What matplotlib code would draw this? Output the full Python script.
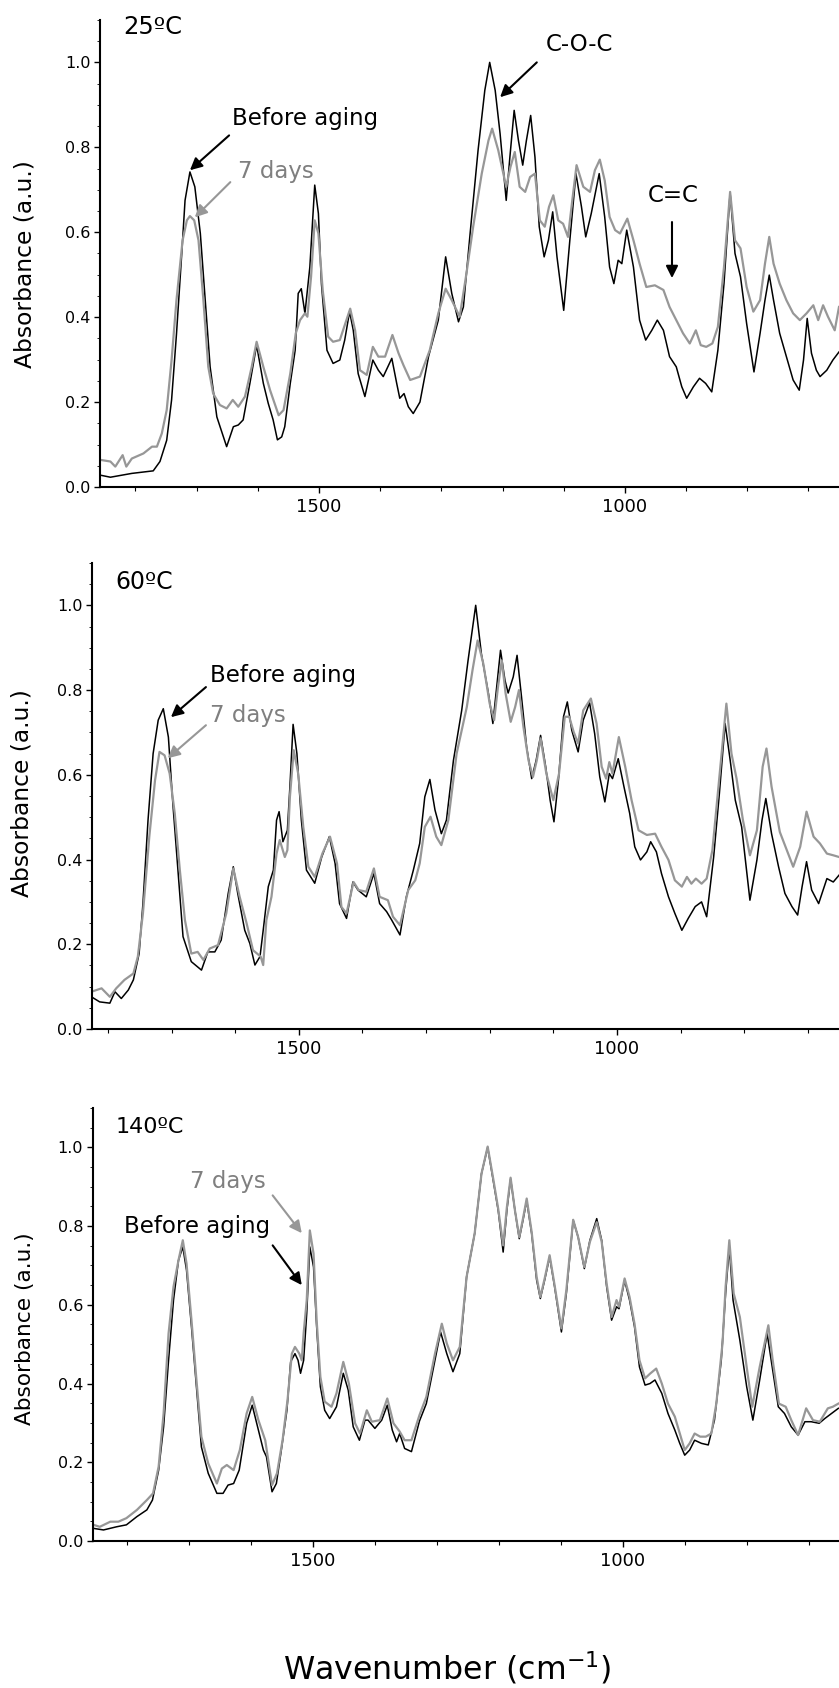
import matplotlib
matplotlib.use('Agg')
import matplotlib.pyplot as plt
from matplotlib.ticker import MultipleLocator, FixedLocator

# ---- Data (wavenumber in cm-1, absorbance in a.u.) ----

# 25 C panel
p1_before_wn = [1858, 1841, 1806, 1771, 1760, 1749, 1741, 1733, 1724, 1719, 1711, 1703, 1694, 1686, 1678,
                1667, 1651, 1640, 1632, 1624, 1613, 1602, 1591, 1583, 1575, 1568, 1561, 1556, 1547, 1539,
                1534, 1529, 1523, 1515, 1507, 1501, 1496, 1487, 1477, 1466, 1458, 1450, 1444, 1436, 1425,
                1412, 1403, 1395, 1381, 1373, 1368, 1361, 1354, 1346, 1335, 1321, 1305, 1293, 1283, 1272,
                1264, 1253, 1240, 1229, 1221, 1212, 1204, 1194, 1188, 1181, 1174, 1167, 1161, 1154, 1147,
                1140, 1132, 1125, 1118, 1111, 1100, 1090, 1080, 1071, 1064, 1055, 1042, 1033, 1025, 1018,
                1011, 1005, 997, 986, 976, 966, 956, 947, 937, 927, 916, 907, 899, 888, 878,
                868, 858, 848, 838, 828, 820, 811, 801, 789, 779, 771, 764, 757, 747, 736,
                725, 715, 708, 702, 695, 687, 681, 670, 660, 650]
p1_before_abs = [0.028, 0.023, 0.032, 0.038, 0.06, 0.11, 0.205, 0.36, 0.558, 0.675, 0.742, 0.707, 0.597, 0.44, 0.283,
                 0.165, 0.095, 0.142, 0.146, 0.158, 0.244, 0.334, 0.244, 0.197, 0.158, 0.111, 0.118, 0.142, 0.244, 0.322,
                 0.456, 0.467, 0.409, 0.518, 0.711, 0.644, 0.478, 0.322, 0.291, 0.299, 0.346, 0.413, 0.369, 0.267, 0.213,
                 0.299, 0.275, 0.26, 0.303, 0.244, 0.209, 0.22, 0.189, 0.173, 0.2, 0.307, 0.393, 0.542, 0.456, 0.389,
                 0.424, 0.597, 0.793, 0.934, 1.0, 0.934, 0.832, 0.675, 0.777, 0.887, 0.816, 0.758, 0.816, 0.875, 0.777,
                 0.613, 0.542, 0.581, 0.648, 0.542, 0.416, 0.581, 0.738, 0.66, 0.589, 0.644, 0.738, 0.636, 0.518, 0.479,
                 0.534, 0.526, 0.605, 0.518, 0.393, 0.346, 0.369, 0.393, 0.369, 0.307, 0.283, 0.236, 0.209, 0.236, 0.256,
                 0.244, 0.224, 0.322, 0.479, 0.693, 0.55, 0.495, 0.385, 0.271, 0.362, 0.44, 0.499, 0.44, 0.362, 0.307,
                 0.252, 0.228, 0.299, 0.397, 0.315, 0.275, 0.26, 0.275, 0.299, 0.318]
p1_aged_wn = [1858, 1841, 1833, 1821, 1815, 1806, 1787, 1773, 1765, 1757, 1749, 1741, 1733, 1723, 1716,
              1711, 1704, 1697, 1689, 1681, 1673, 1662, 1651, 1641, 1632, 1621, 1610, 1602, 1591, 1580,
              1566, 1558, 1547, 1538, 1531, 1523, 1519, 1513, 1507, 1501, 1494, 1485, 1477, 1466, 1458,
              1449, 1441, 1433, 1422, 1412, 1403, 1392, 1380, 1370, 1362, 1351, 1335, 1319, 1305, 1293,
              1283, 1270, 1259, 1248, 1234, 1223, 1217, 1207, 1194, 1187, 1180, 1172, 1163, 1155, 1147,
              1139, 1131, 1124, 1117, 1109, 1101, 1093, 1086, 1079, 1068, 1057, 1049, 1041, 1033, 1025,
              1016, 1008, 996, 986, 976, 965, 951, 937, 927, 916, 905, 894, 884, 876, 867,
              857, 848, 838, 828, 820, 811, 801, 790, 779, 771, 764, 757, 747, 736, 725,
              714, 703, 692, 684, 676, 668, 657, 650]
p1_aged_abs = [0.064, 0.06, 0.048, 0.075, 0.048, 0.067, 0.079, 0.095, 0.095, 0.126, 0.181, 0.299, 0.44, 0.581, 0.628,
               0.638, 0.628, 0.581, 0.44, 0.283, 0.22, 0.193, 0.185, 0.205, 0.189, 0.213, 0.283, 0.342, 0.283, 0.228,
               0.169, 0.181, 0.267, 0.362, 0.393, 0.409, 0.401, 0.495, 0.628, 0.597, 0.464, 0.354, 0.342, 0.346, 0.381,
               0.42, 0.369, 0.275, 0.264, 0.33, 0.307, 0.307, 0.358, 0.315, 0.287, 0.252, 0.26, 0.322, 0.409, 0.467,
               0.44, 0.401, 0.503, 0.613, 0.738, 0.816, 0.844, 0.793, 0.707, 0.754, 0.789, 0.707, 0.695, 0.73, 0.738,
               0.628, 0.613, 0.66, 0.687, 0.628, 0.62, 0.589, 0.675, 0.758, 0.707, 0.695, 0.746, 0.771, 0.722, 0.636,
               0.605, 0.597, 0.632, 0.581, 0.526, 0.471, 0.475, 0.464, 0.424, 0.393, 0.362, 0.338, 0.369, 0.334, 0.33,
               0.338, 0.377, 0.518, 0.695, 0.581, 0.562, 0.471, 0.413, 0.44, 0.526, 0.589, 0.526, 0.479, 0.44, 0.409,
               0.393, 0.409, 0.428, 0.393, 0.428, 0.401, 0.369, 0.424]

# 60 C panel
p2_before_wn = [1826, 1813, 1797, 1789, 1779, 1768, 1760, 1751, 1745, 1737, 1729, 1721, 1713, 1705, 1698,
                1690, 1682, 1669, 1653, 1643, 1632, 1622, 1611, 1603, 1596, 1585, 1577, 1569, 1561, 1556,
                1548, 1540, 1535, 1531, 1525, 1518, 1514, 1509, 1503, 1496, 1488, 1475, 1464, 1452, 1443,
                1436, 1425, 1415, 1407, 1394, 1382, 1373, 1362, 1354, 1341, 1331, 1320, 1310, 1302, 1294,
                1286, 1276, 1268, 1257, 1244, 1234, 1222, 1213, 1202, 1195, 1188, 1183, 1176, 1171, 1163,
                1157, 1150, 1142, 1134, 1127, 1120, 1112, 1105, 1099, 1092, 1084, 1078, 1071, 1061, 1053,
                1043, 1035, 1027, 1019, 1012, 1007, 998, 989, 980, 972, 963, 953, 947, 938, 930,
                919, 909, 898, 888, 877, 867, 859, 848, 839, 830, 822, 814, 804, 791, 780,
                772, 766, 757, 746, 736, 725, 716, 709, 702, 694, 683, 670, 660, 651]
p2_before_abs = [0.076, 0.064, 0.061, 0.088, 0.072, 0.092, 0.116, 0.178, 0.296, 0.493, 0.65, 0.729, 0.756, 0.689, 0.532,
                 0.375, 0.218, 0.159, 0.139, 0.182, 0.182, 0.21, 0.32, 0.383, 0.32, 0.233, 0.202, 0.151, 0.171, 0.233,
                 0.336, 0.375, 0.493, 0.513, 0.442, 0.469, 0.572, 0.719, 0.65, 0.493, 0.375, 0.344, 0.406, 0.454, 0.391,
                 0.296, 0.261, 0.347, 0.328, 0.312, 0.367, 0.296, 0.277, 0.257, 0.222, 0.312, 0.375, 0.438, 0.548, 0.589,
                 0.517, 0.461, 0.493, 0.634, 0.752, 0.87, 1.0, 0.885, 0.792, 0.721, 0.823, 0.894, 0.823, 0.793, 0.831,
                 0.882, 0.784, 0.666, 0.591, 0.634, 0.693, 0.619, 0.54, 0.489, 0.587, 0.737, 0.772, 0.705, 0.654, 0.729,
                 0.77, 0.697, 0.595, 0.536, 0.603, 0.591, 0.638, 0.572, 0.509, 0.43, 0.399, 0.418, 0.442, 0.418, 0.367,
                 0.312, 0.273, 0.233, 0.261, 0.289, 0.3, 0.265, 0.406, 0.556, 0.721, 0.634, 0.54, 0.477, 0.304, 0.399,
                 0.493, 0.544, 0.461, 0.383, 0.32, 0.289, 0.269, 0.336, 0.395, 0.328, 0.296, 0.355, 0.347, 0.363]
p2_aged_wn = [1826, 1810, 1797, 1787, 1774, 1760, 1753, 1745, 1735, 1726, 1719, 1711, 1703, 1695, 1687,
              1679, 1669, 1659, 1650, 1640, 1627, 1614, 1603, 1593, 1582, 1572, 1560, 1556, 1551, 1543,
              1535, 1530, 1522, 1518, 1514, 1508, 1501, 1493, 1485, 1475, 1463, 1451, 1440, 1433, 1425,
              1414, 1406, 1394, 1382, 1373, 1360, 1352, 1341, 1328, 1317, 1310, 1302, 1293, 1284, 1276,
              1265, 1252, 1236, 1227, 1219, 1210, 1200, 1193, 1187, 1181, 1175, 1167, 1160, 1154, 1147,
              1139, 1132, 1126, 1120, 1111, 1100, 1091, 1082, 1075, 1068, 1061, 1053, 1041, 1032, 1024,
              1017, 1012, 1007, 997, 987, 977, 966, 953, 940, 930, 919, 909, 898, 890, 883,
              876, 867, 859, 850, 840, 828, 820, 812, 802, 791, 780, 771, 765, 757, 744,
              733, 723, 712, 702, 691, 681, 670, 660, 651]
p2_aged_abs = [0.088, 0.096, 0.076, 0.096, 0.116, 0.131, 0.171, 0.273, 0.454, 0.587, 0.654, 0.646, 0.603, 0.509, 0.375,
               0.257, 0.178, 0.182, 0.163, 0.19, 0.198, 0.273, 0.379, 0.312, 0.249, 0.186, 0.171, 0.151, 0.257, 0.312,
               0.414, 0.446, 0.406, 0.422, 0.548, 0.658, 0.603, 0.477, 0.383, 0.359, 0.414, 0.454, 0.391, 0.288, 0.273,
               0.347, 0.328, 0.324, 0.379, 0.312, 0.304, 0.265, 0.245, 0.328, 0.351, 0.391, 0.477, 0.501, 0.454, 0.434,
               0.493, 0.65, 0.76, 0.847, 0.917, 0.862, 0.768, 0.729, 0.807, 0.87, 0.792, 0.725, 0.76, 0.8, 0.713,
               0.634, 0.595, 0.634, 0.686, 0.603, 0.54, 0.603, 0.737, 0.737, 0.701, 0.674, 0.752, 0.78, 0.721, 0.619,
               0.591, 0.63, 0.603, 0.689, 0.619, 0.54, 0.469, 0.458, 0.461, 0.43, 0.399, 0.351, 0.336, 0.359, 0.343,
               0.355, 0.343, 0.355, 0.422, 0.579, 0.768, 0.65, 0.591, 0.493, 0.41, 0.469, 0.619, 0.662, 0.572, 0.465,
               0.422, 0.383, 0.43, 0.513, 0.454, 0.438, 0.414, 0.41, 0.406]

# 140 C panel
p3_before_wn = [1854, 1838, 1817, 1801, 1784, 1768, 1759, 1749, 1741, 1733, 1725, 1717, 1710, 1704, 1696,
                1688, 1680, 1669, 1655, 1645, 1637, 1628, 1619, 1607, 1598, 1588, 1580, 1575, 1566, 1559,
                1551, 1542, 1536, 1529, 1524, 1520, 1515, 1510, 1505, 1499, 1494, 1488, 1481, 1473, 1462,
                1451, 1443, 1435, 1425, 1416, 1411, 1400, 1389, 1380, 1372, 1365, 1360, 1352, 1341, 1328,
                1317, 1303, 1294, 1284, 1274, 1263, 1252, 1239, 1228, 1218, 1209, 1201, 1193, 1187, 1181,
                1174, 1167, 1161, 1155, 1147, 1139, 1133, 1126, 1118, 1110, 1099, 1091, 1080, 1072, 1062,
                1053, 1042, 1034, 1026, 1018, 1010, 1006, 997, 989, 981, 973, 964, 956, 948, 937,
                927, 916, 908, 900, 892, 884, 873, 862, 852, 841, 834, 828, 822, 811, 800,
                790, 779, 767, 758, 749, 739, 728, 717, 706, 696, 683, 674, 663, 652]
p3_before_abs = [0.032, 0.028, 0.036, 0.041, 0.062, 0.079, 0.104, 0.18, 0.29, 0.459, 0.612, 0.713, 0.747, 0.688, 0.544,
                 0.392, 0.239, 0.172, 0.121, 0.121, 0.142, 0.146, 0.18, 0.299, 0.345, 0.282, 0.231, 0.214, 0.125, 0.146,
                 0.231, 0.332, 0.455, 0.476, 0.459, 0.426, 0.459, 0.578, 0.747, 0.696, 0.544, 0.392, 0.332, 0.311, 0.341,
                 0.426, 0.383, 0.29, 0.256, 0.307, 0.307, 0.286, 0.307, 0.345, 0.282, 0.252, 0.273, 0.235, 0.227, 0.305,
                 0.349, 0.459, 0.531, 0.476, 0.43, 0.476, 0.671, 0.781, 0.933, 1.0, 0.916, 0.84, 0.734, 0.84, 0.92,
                 0.84, 0.768, 0.815, 0.865, 0.781, 0.663, 0.616, 0.663, 0.722, 0.646, 0.531, 0.629, 0.815, 0.772, 0.692,
                 0.764, 0.819, 0.764, 0.646, 0.561, 0.595, 0.59, 0.662, 0.612, 0.544, 0.442, 0.396, 0.4, 0.409, 0.375,
                 0.324, 0.282, 0.248, 0.218, 0.231, 0.256, 0.248, 0.244, 0.307, 0.459, 0.629, 0.747, 0.612, 0.51, 0.392,
                 0.307, 0.409, 0.527, 0.434, 0.341, 0.324, 0.29, 0.269, 0.303, 0.303, 0.299, 0.311, 0.324, 0.337]
p3_aged_wn = [1854, 1844, 1827, 1814, 1801, 1784, 1768, 1758, 1749, 1741, 1733, 1725, 1717, 1710, 1704,
              1696, 1688, 1680, 1669, 1655, 1647, 1639, 1628, 1618, 1607, 1598, 1588, 1577, 1566, 1558,
              1549, 1541, 1534, 1529, 1522, 1518, 1515, 1510, 1505, 1499, 1494, 1488, 1481, 1470, 1462,
              1451, 1442, 1432, 1424, 1413, 1405, 1392, 1380, 1370, 1360, 1352, 1341, 1328, 1317, 1303,
              1292, 1284, 1274, 1263, 1252, 1239, 1228, 1218, 1209, 1201, 1193, 1187, 1181, 1174, 1167,
              1161, 1155, 1147, 1139, 1133, 1126, 1118, 1110, 1099, 1091, 1080, 1072, 1062, 1053, 1042,
              1034, 1026, 1018, 1010, 1006, 997, 989, 981, 973, 964, 956, 946, 937, 927, 916,
              908, 900, 892, 884, 875, 866, 857, 849, 839, 834, 828, 821, 811, 800, 791,
              779, 765, 758, 748, 737, 728, 717, 704, 693, 682, 669, 661, 652]
p3_aged_abs = [0.041, 0.036, 0.049, 0.049, 0.058, 0.079, 0.104, 0.121, 0.189, 0.324, 0.527, 0.646, 0.713, 0.764, 0.705,
               0.561, 0.409, 0.265, 0.197, 0.146, 0.184, 0.193, 0.18, 0.231, 0.324, 0.366, 0.307, 0.256, 0.142, 0.172,
               0.256, 0.358, 0.476, 0.493, 0.476, 0.459, 0.527, 0.612, 0.789, 0.73, 0.561, 0.417, 0.354, 0.341, 0.375,
               0.455, 0.4, 0.299, 0.273, 0.332, 0.303, 0.307, 0.362, 0.299, 0.278, 0.256, 0.256, 0.32, 0.366, 0.476,
               0.552, 0.502, 0.459, 0.493, 0.671, 0.781, 0.933, 1.002, 0.92, 0.844, 0.751, 0.848, 0.923, 0.84, 0.772,
               0.819, 0.87, 0.785, 0.671, 0.62, 0.667, 0.726, 0.65, 0.54, 0.638, 0.816, 0.772, 0.696, 0.76, 0.81,
               0.76, 0.654, 0.569, 0.612, 0.595, 0.667, 0.62, 0.552, 0.459, 0.413, 0.425, 0.438, 0.4, 0.349, 0.316,
               0.273, 0.231, 0.248, 0.273, 0.265, 0.265, 0.273, 0.349, 0.502, 0.646, 0.764, 0.629, 0.569, 0.442, 0.341,
               0.442, 0.548, 0.459, 0.349, 0.341, 0.307, 0.269, 0.337, 0.307, 0.303, 0.337, 0.341, 0.349]

BLACK = 'black'
GRAY_LINE = '#979797'
GRAY_TEXT = '#7f7f7f'


def draw_panel(fig, rect, xlim, before_wn, before_abs, aged_wn, aged_abs, title, title_size,
               ylabel_xy, ylabel_size):
    # Create axis at a fixed spot in the figure
    ax = fig.add_axes(rect)

    # Spectra: before aging (black) and after 7 days (gray, on top)
    ax.plot(before_wn, before_abs, color=BLACK, lw=1.1)
    ax.plot(aged_wn, aged_abs, color=GRAY_LINE, lw=1.6)

    # Reversed wavenumber axis
    ax.set_xlim(*xlim)
    ax.set_ylim(0, 1.1)

    # Only left and bottom frame lines
    for side in ['top', 'right']:
        ax.spines[side].set_visible(False)
    for side in ['left', 'bottom']:
        ax.spines[side].set_linewidth(1.5)

    # Ticks
    ax.xaxis.set_major_locator(FixedLocator([1500, 1000]))
    ax.xaxis.set_minor_locator(MultipleLocator(100))
    ax.yaxis.set_major_locator(MultipleLocator(0.2))
    ax.yaxis.set_minor_locator(MultipleLocator(0.05))
    ax.yaxis.set_major_formatter(plt.FormatStrFormatter('%.1f'))
    ax.tick_params(axis='x', which='major', length=4, width=1, labelsize=13, pad=4)
    ax.tick_params(axis='x', which='minor', length=3, width=0.8)
    ax.tick_params(axis='y', which='major', length=4, width=1, labelsize=11.5, pad=3)
    ax.tick_params(axis='y', which='minor', length=2, width=0.6)

    # Panel temperature label
    ax.text(title[1], title[2], title[0], fontsize=title_size, ha='left', va='baseline')

    # Y axis label
    ax.set_ylabel('Absorbance (a.u.)', fontsize=ylabel_size, va='center')
    ax.yaxis.set_label_coords(*ylabel_xy)

    return ax


def add_note(ax, text, text_xy, start, tip, color, text_color):
    # Label text
    ax.text(text_xy[0], text_xy[1], text, color=text_color, fontsize=16.5, ha='left', va='baseline')

    # Arrow pointing at the band
    ax.annotate('', xy=tip, xytext=start,
                arrowprops=dict(arrowstyle='-|>', color=color, lw=1.5, mutation_scale=18,
                                shrinkA=0, shrinkB=0))


fig = plt.figure(figsize=(8.39, 16.88), dpi=100)

# 25 C
ax1 = draw_panel(fig, [0.1192, 0.7115, 0.8808, 0.2767], (1858, 650),
                 p1_before_wn, p1_before_abs, p1_aged_wn, p1_aged_abs,
                 ('25ºC', 1820, 1.068), 17.5, (-0.1015, 0.478), 16.8)
add_note(ax1, 'Before aging', (1642, 0.852), (1647, 0.828), (1711, 0.746), BLACK, BLACK)
add_note(ax1, '7 days', (1632, 0.727), (1645, 0.718), (1703, 0.635), GRAY_LINE, GRAY_TEXT)
add_note(ax1, 'C-O-C', (1129, 1.026), (1144, 1.0), (1204, 0.918), BLACK, BLACK)
add_note(ax1, 'C=C', (962, 0.671), (923, 0.624), (923, 0.492), BLACK, BLACK)

# 60 C
ax2 = draw_panel(fig, [0.1097, 0.3904, 0.8903, 0.2761], (1825, 651),
                 p2_before_wn, p2_before_abs, p2_aged_wn, p2_aged_abs,
                 ('60ºC', 1788, 1.038), 17, (-0.094, 0.506), 16.8)
add_note(ax2, 'Before aging', (1640, 0.818), (1646, 0.807), (1701, 0.736), BLACK, BLACK)
add_note(ax2, '7 days', (1640, 0.724), (1646, 0.717), (1706, 0.639), GRAY_LINE, GRAY_TEXT)

# 140 C
ax3 = draw_panel(fig, [0.1108, 0.0871, 0.8892, 0.2565], (1855, 651),
                 p3_before_wn, p3_before_abs, p3_aged_wn, p3_aged_abs,
                 ('140ºC', 1819, 1.036), 16, (-0.091, 0.49), 15.6)
add_note(ax3, '7 days', (1698, 0.896), (1565, 0.878), (1518, 0.782), GRAY_LINE, GRAY_TEXT)
add_note(ax3, 'Before aging', (1805, 0.782), (1565, 0.751), (1518, 0.650), BLACK, BLACK)

# Shared x axis title
fig.text(0.5334, 0.0118, 'Wavenumber (cm$^{-1}$)', fontsize=22.8, ha='center', va='center')

fig.savefig('out.png', dpi=100)
